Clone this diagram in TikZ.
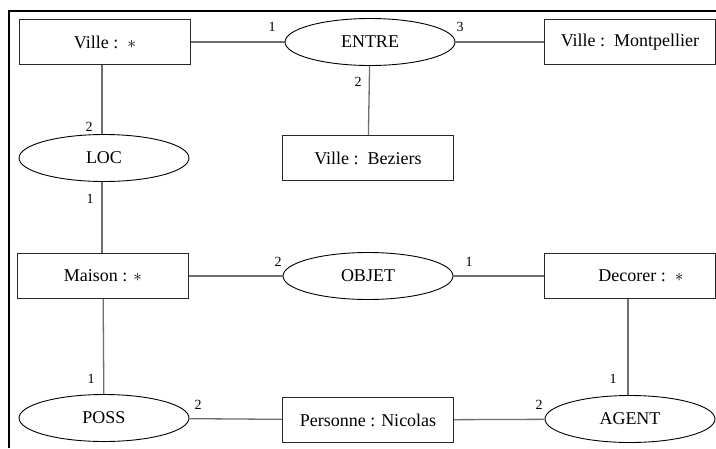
\documentclass[tikz,border=0pt]{standalone}
\usepackage{fontspec}
\setmainfont{Liberation Serif}
\newfontfamily\diagfont{Liberation Serif}
\usetikzlibrary{positioning,shapes.geometric}

\begin{document}
\begin{tikzpicture}[x=1pt,y=-1pt]
    % Define colors
    \definecolor{boxline}{RGB}{40,40,40}
    \definecolor{linkgray}{RGB}{110,110,110}

    % Define styles
    \tikzset{
        concept/.style={rectangle, draw=boxline, line width=0.9pt, minimum width=171pt, minimum height=45pt, font=\diagfont\fontsize{18}{21}\selectfont},
        relation/.style={ellipse, draw=black, line width=0.9pt, minimum width=170pt, minimum height=47pt, inner sep=0pt, font=\diagfont\fontsize{18}{21}\selectfont},
        link/.style={draw=linkgray, line width=1.3pt},
        card/.style={inner sep=0pt, font=\diagfont\fontsize{14}{16}\selectfont}
    }

    \useasboundingbox (0,0) rectangle (716,448);

    % Draw frame
    \draw[line width=2pt] (9,448) -- (9,11) -- (716,11);

    % Draw concept nodes
    \node[concept] (ville) at (105,42) {Ville :\ \ $\ast$};
    \node[concept] (montpellier) at (630,42) {Ville :\ \ Montpellier};
    \node[concept] (beziers) at (368,158) {Ville :\ \ Beziers};
    \node[concept] (maison) at (103,276) {Maison : $\ast$};
    \node[concept] (decorer) at (630,276) {\hspace*{22pt}Decorer :\ \ $\ast$};
    \node[concept] (personne) at (368,420) {Personne : Nicolas};

    % Draw relation nodes
    \node[relation] (entre) at (370,42) {ENTRE};
    \node[relation] (loc) at (104,158) {LOC};
    \node[relation] (objet) at (368,276) {OBJET};
    \node[relation] (poss) at (104,418) {POSS};
    \node[relation] (agent) at (630,419) {AGENT};

    % Draw links
    \draw[link] (ville) -- (entre);
    \draw[link] (entre) -- (montpellier);
    \draw[link] (entre) -- (beziers);
    \draw[link] (ville.south -| loc.north) ++(-2,0) coordinate (vs) -- (vs |- loc.north);
    \draw[link] (loc.south) ++(-2,0) coordinate (ls) -- (ls |- maison.north);
    \draw[link] (maison) -- (objet);
    \draw[link] (objet) -- (decorer);
    \draw[link] (maison) -- (poss);
    \draw[link] (decorer.south) ++(-2,0) coordinate (ds) -- (ds |- agent.north);
    \draw[link] (poss) -- (personne);
    \draw[link] (personne) -- (agent);

    % Add cardinalities
    \node[card] (c1) at (272,27) {1};
    \node[card] (c2) at (460,27) {3};
    \node[card] (c3) at (358,82) {2};
    \node[card] (c4) at (89,127) {2};
    \node[card] (c5) at (90,199) {1};
    \node[card] (c6) at (278,262) {2};
    \node[card] (c7) at (469,262) {1};
    \node[card] (c8) at (91,379) {1};
    \node[card] (c9) at (198,405) {2};
    \node[card] (c10) at (539,405) {2};
    \node[card] (c11) at (613,379) {1};
\end{tikzpicture}
\end{document}
